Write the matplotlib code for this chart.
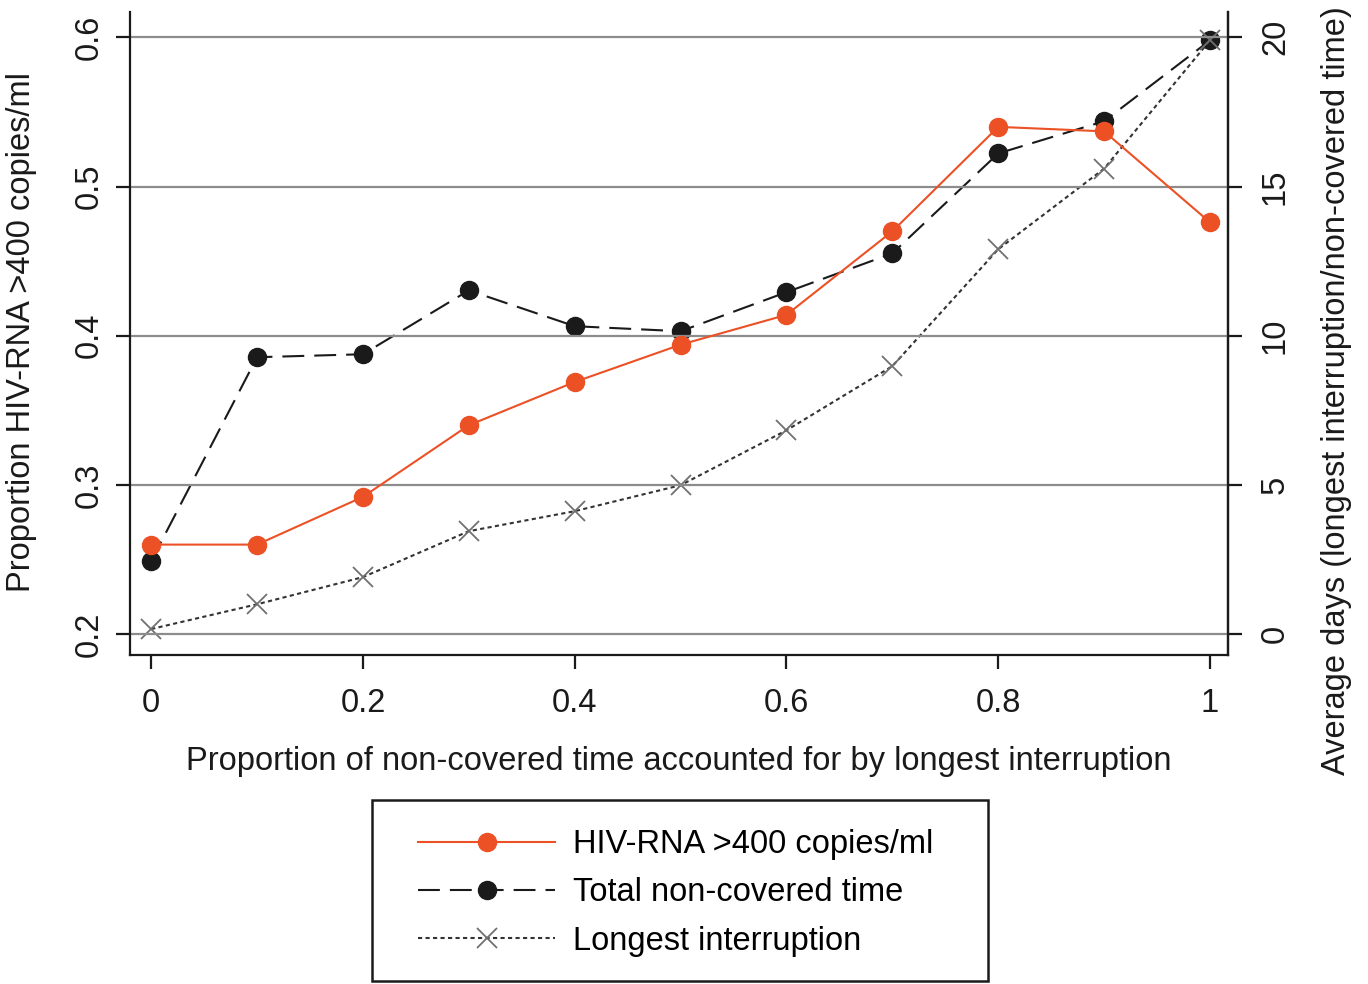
import matplotlib.pyplot as plt
from matplotlib.patches import Rectangle

plt.rcParams['font.family'] = ['Liberation Sans', 'DejaVu Sans']

# proportion of non-covered time accounted for by longest interruption
x_prop = [0, 0.1, 0.2, 0.3, 0.4, 0.5, 0.6, 0.7, 0.8, 0.9, 1.0]

# left axis: proportion HIV-RNA >400 copies/ml
hiv_rna = [0.260, 0.260, 0.292, 0.340, 0.369, 0.394, 0.414, 0.470, 0.540, 0.537, 0.476]

# right axis: average days
total_noncov = [2.45, 9.28, 9.38, 11.52, 10.32, 10.15, 11.46, 12.76, 16.11, 17.19, 19.90]
longest_int = [0.17, 1.00, 1.91, 3.45, 4.12, 4.99, 6.83, 8.98, 12.90, 15.60, 19.90]

left_ticks = [0.2, 0.3, 0.4, 0.5, 0.6]
right_ticks = [0, 5, 10, 15, 20]
x_ticks = [0, 0.2, 0.4, 0.6, 0.8, 1]
x_ticklabels = ['0', '0.2', '0.4', '0.6', '0.8', '1']

orange = '#ec5125'
fs = 23.5
W, H = 1368, 984

fig = plt.figure(figsize=(13.68, 9.84), dpi=100)
ax = fig.add_axes([130/W, 1 - 655/H, (1228-130)/W, (655-12)/H])
ax2 = ax.twinx()

# gridlines (horizontal only)
for t in left_ticks:
    ax.axhline(t, color='#8c8c8c', lw=1.6, zorder=0)

l1, = ax.plot(x_prop, hiv_rna, color=orange, lw=1.5, marker='o', ms=13,
              mec=orange, mfc=orange, zorder=5)
l2, = ax2.plot(x_prop, total_noncov, color='#1a1a1a', lw=1.5,
               ls=(0, (10.5, 4.8)), marker='o', ms=13, zorder=3)
l3, = ax2.plot(x_prop, longest_int, color='#333333', lw=1.5,
               ls=(0, (2, 1.6)), marker='x', ms=15, mew=1.3,
               mec='#707070', zorder=4)

ax.set_zorder(ax2.get_zorder() + 1)
ax.patch.set_visible(False)

ax.set_xlim(-0.02, 1.017)
ax.set_ylim(0.186, 0.617)
ax2.set_ylim((0.186 - 0.2) * 50, (0.617 - 0.2) * 50)

ax.set_xticks(x_ticks)
ax.set_xticklabels(x_ticklabels)
ax.set_yticks(left_ticks)
ax.set_yticklabels(['0.2', '0.3', '0.4', '0.5', '0.6'], rotation=90, va='center')
ax2.set_yticks(right_ticks)
ax2.set_yticklabels([str(t) for t in right_ticks], rotation=90, va='center')

for a in (ax, ax2):
    a.spines['top'].set_visible(False)
    for s in a.spines.values():
        s.set_linewidth(1.6)
        s.set_color('#1a1a1a')
    a.tick_params(direction='out', length=10, width=1.6, labelsize=fs,
                  color='#1a1a1a', labelcolor='#1a1a1a', pad=8)
ax.tick_params(axis='x', pad=14)
ax2.tick_params(axis='y', pad=13)
ax2.spines['left'].set_visible(False)
ax2.spines['bottom'].set_visible(False)

ax.set_xlabel('Proportion of non-covered time accounted for by longest interruption',
              fontsize=fs, labelpad=19, color='#1a1a1a')
ax.set_ylabel('Proportion HIV-RNA >400 copies/ml', fontsize=fs, color='#1a1a1a')
ax.yaxis.set_label_coords((37 - 130) / 1098, (655 - 332) / 643)
ax2.set_ylabel('Average days (longest interruption/non-covered time)', fontsize=fs,
               rotation=90, color='#1a1a1a', va='center')
ax2.yaxis.set_label_coords((1336 - 130) / 1098, (655 - 391) / 643)

# legend frame drawn at the reference box position
fig.patches.append(Rectangle((372/W, 1 - 981/H), (988-372)/W, (981-800)/H,
                             transform=fig.transFigure, fill=False,
                             edgecolor='#1a1a1a', lw=1.8))
leg = fig.legend([l1, l2, l3],
                 ['HIV-RNA >400 copies/ml', 'Total non-covered time', 'Longest interruption'],
                 loc='upper left', bbox_to_anchor=(418/W, 1 - 829/H),
                 fontsize=fs, frameon=False, handlelength=4.2,
                 labelspacing=0.53, borderpad=0, handletextpad=0.55,
                 borderaxespad=0)

fig.savefig('out.png', dpi=100)
